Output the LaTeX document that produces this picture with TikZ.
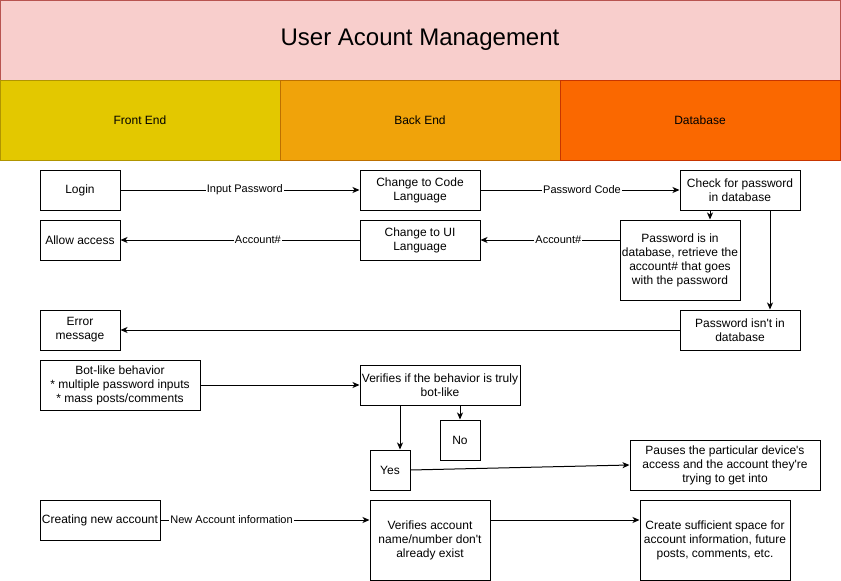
\documentclass[tikz,border=0pt]{standalone}
\usepackage{fontspec}
\setmainfont{Liberation Sans}
\usetikzlibrary{arrows.meta}
\definecolor{titlefill}{HTML}{F8CECC}
\definecolor{titlestroke}{HTML}{B85450}
\definecolor{frontfill}{HTML}{E3C800}
\definecolor{frontstroke}{HTML}{B09500}
\definecolor{backfill}{HTML}{F0A30A}
\definecolor{backstroke}{HTML}{BD7000}
\definecolor{dbfill}{HTML}{FA6800}
\definecolor{dbstroke}{HTML}{C73500}
\begin{document}
\begin{tikzpicture}[x=1pt,y=-1pt,
  box/.style={draw=black, line width=1pt, fill=white, align=center, inner sep=0pt, font=\fontsize{12}{14}\selectfont},
  lane/.style={line width=1pt, inner sep=0pt, minimum width=280pt, minimum height=80pt, font=\fontsize{12}{14}\selectfont},
  conn/.style={line width=1pt, -{Stealth[length=7pt,width=6pt,inset=2pt]}},
  lbl/.style={fill=white, inner sep=1pt, font=\fontsize{11}{13}\selectfont}]
\useasboundingbox (0,0) rectangle (841,581);
\fill[white] (0,0) rectangle (841,581);
% header
\node[draw=titlestroke, fill=titlefill, line width=1pt, minimum width=840pt, minimum height=80pt, inner sep=0pt, font=\fontsize{24}{28}\selectfont] (title) at (420,40) {\raisebox{-2pt}{User Acount Management}};
\node[lane, draw=frontstroke, fill=frontfill] (front) at (140,120) {Front End};
\node[lane, draw=backstroke, fill=backfill] (back) at (420,120) {Back End};
\node[lane, draw=dbstroke, fill=dbfill] (db) at (700,120) {Database};
% boxes
\node[box, minimum width=80pt, minimum height=40pt] (login) at (80,190) {Login};
\node[box, minimum width=80pt, minimum height=40pt] (allow) at (80,240) {Allow access};
\node[box, minimum width=80pt, minimum height=40pt] (err) at (80,330) {Error\\message};
\node[box, minimum width=120pt, minimum height=40pt] (code) at (420,190) {Change to Code\\Language};
\node[box, minimum width=120pt, minimum height=40pt] (chui) at (420,240) {Change to UI\\Language};
\node[box, minimum width=120pt, minimum height=40pt] (check) at (740,190) {Check for password\\in database};
\node[box, minimum width=120pt, minimum height=80pt] (pwin) at (680,260) {Password is in\\database, retrieve the\\account\# that goes\\with the password};
\node[box, minimum width=120pt, minimum height=40pt] (pwnot) at (740,330) {Password isn\textquotesingle t in\\database};
\node[box, minimum width=160pt, minimum height=50pt] (bot) at (120,385) {Bot-like behavior\\* multiple password inputs\\* mass posts/comments};
\node[box, minimum width=160pt, minimum height=40pt] (verb) at (440,385) {Verifies if the behavior is truly\\bot-like};
\node[box, minimum width=40pt, minimum height=40pt] (no) at (460,440) {No};
\node[box, minimum width=40pt, minimum height=40pt] (yes) at (390,470) {Yes};
\node[box, minimum width=190pt, minimum height=50pt] (pauses) at (725,465) {Pauses the particular device\textquotesingle s\\access and the account they\textquotesingle re\\trying to get into};
\node[box, minimum width=120pt, minimum height=40pt] (creating) at (100,520) {Creating new account};
\node[box, minimum width=120pt, minimum height=80pt] (vacc) at (430,540) {Verifies account\\name/number don\textquotesingle t\\already exist};
\node[box, minimum width=150pt, minimum height=80pt] (create) at (715,540) {Create sufficient space for\\account information, future\\posts, comments, etc.};
% connectors
\draw[conn] (login.east) -- node[lbl, pos=0.52] {Input Password} (code.west);
\draw[conn] (code.east) -- node[lbl, pos=0.51] {Password Code} (check.west);
\draw[conn] ([xshift=-30pt]check.south) -- ([xshift=-30pt]check.south |- pwin.north);
\draw[conn] ([xshift=30pt]check.south) -- ([xshift=30pt]check.south |- pwnot.north);
\draw[conn] (chui.east -| pwin.west) -- node[lbl, pos=0.44] {Account\#} (chui.east);
\draw[conn] (chui.west) -- node[lbl, pos=0.425] {Account\#} (allow.east);
\draw[conn] (pwnot.west) -- (err.east);
\draw[conn] (bot.east) -- (verb.west);
\draw[conn] ([xshift=-40pt]verb.south) -- ([xshift=-40pt]verb.south |- yes.north);
\draw[conn] ([xshift=20pt]verb.south) -- (no.north);
\draw[conn] (yes.east) -- (pauses.west);
\draw[conn] (creating.east) -- node[lbl, pos=0.34] {New Account information} (creating.east -| vacc.west);
\draw[conn] ([yshift=20pt]vacc.east) -- ([yshift=20pt]create.west);
\end{tikzpicture}
\end{document}
